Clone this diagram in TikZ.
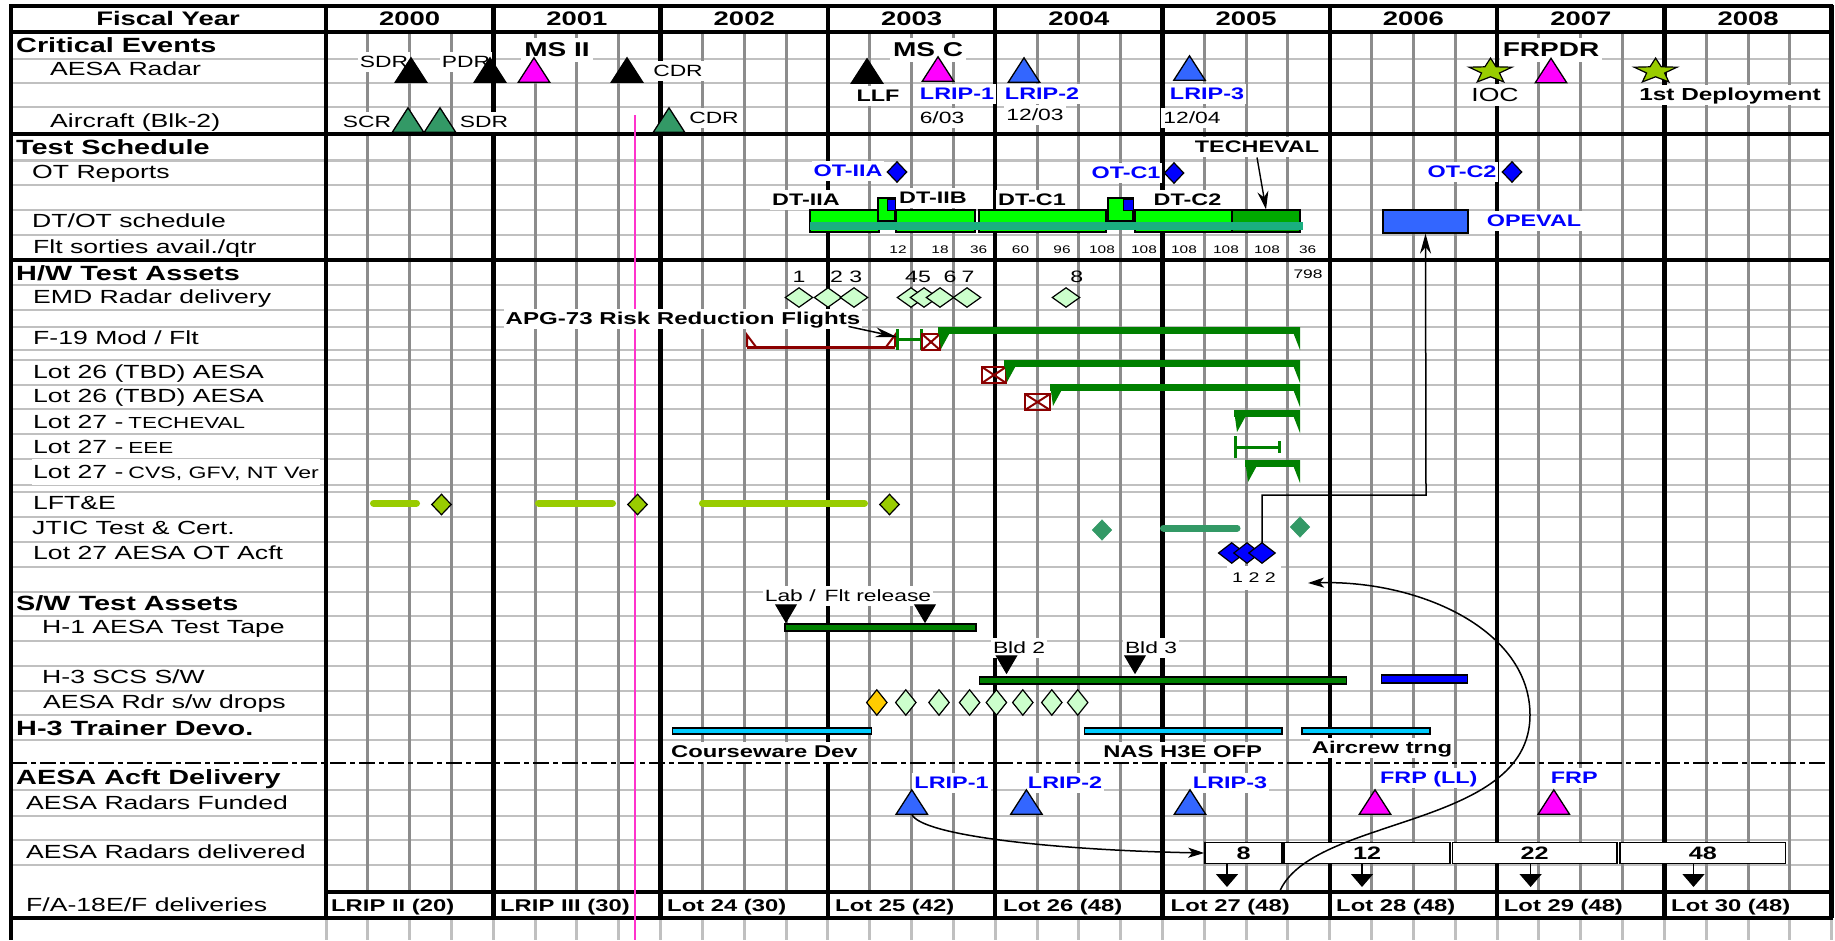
\documentclass[tikz,border=0pt]{standalone}
\usepackage{fontspec}
\setmainfont{Liberation Sans}[FakeStretch=1.4]
\usetikzlibrary{arrows.meta}
\definecolor{hg}{HTML}{C0C0C0}
\definecolor{vg}{HTML}{8C8C8C}
\definecolor{tealg}{HTML}{339966}
\definecolor{mag}{HTML}{FF00FF}
\definecolor{blueT}{HTML}{3366FF}
\definecolor{starg}{HTML}{99CC00}
\definecolor{ltg}{HTML}{CCFFCC}
\definecolor{brg}{HTML}{00FF00}
\definecolor{dkg}{HTML}{00AA00}
\definecolor{stripe}{HTML}{1AAF80}
\definecolor{sumg}{HTML}{008000}
\definecolor{dred}{HTML}{8B0000}
\definecolor{cyanb}{HTML}{00CCFF}
\definecolor{pinkl}{HTML}{FF33CC}
\definecolor{orng}{HTML}{FFCC00}
\definecolor{txtb}{HTML}{0000FF}

\newcommand\trU[5]{\node[#5] (#1) at (#2,#3) {};
  \draw[fill=#4, line width=1.3pt, line join=miter] (#1.south west) -- (#1.south east) -- (#1.north) -- cycle;}
\newcommand\trD[4]{\node[tdn] (#1) at (#2,#3) {};
  \draw[fill=#4, line width=1pt] (#1.north west) -- (#1.north east) -- (#1.south) -- cycle;}
\newcommand\dmd[5]{\node[#5] (#1) at (#2,#3) {};
  \draw[#4] (#1.north) -- (#1.east) -- (#1.south) -- (#1.west) -- cycle;}
\newcommand\starA[3]{\node[minimum width=43pt, minimum height=24pt] (#1) at (#2,#3) {};
  \draw[fill=starg, line width=1.2pt, line join=miter, shift={(#2,#3)}] (0,-11.9) -- (-5.6,-3.2) -- (-21.4,-2.8) -- (-9,3) -- (-13.2,11.9) -- (0,6.8) -- (13.2,11.9) -- (9,3) -- (21.4,-2.8) -- (5.6,-3.2) -- cycle;}
\newcommand\sumbar[3]{\fill[sumg] (#1,#3) rectangle (#2,{#3+7});
  \fill[sumg] (#1,#3) -- ({#1+15},#3) -- ({#1+3},{#3+22}) -- cycle;
  \fill[sumg] ({#2-9},#3) -- (#2,#3) -- (#2,{#3+23}) -- cycle;}
\newcommand\bowt[4]{\draw[dred, line width=2.5pt] (#1,#2) rectangle (#3,#4);
  \draw[dred, line width=2pt] (#1,#2) -- (#3,#4) (#3,#2) -- (#1,#4);}

\begin{document}
\begin{tikzpicture}[x=1pt, y=-1pt,
  every node/.style={inner sep=0pt},
  hdr/.style={font=\bfseries\fontsize{19.6}{20}\selectfont, text height=16.5pt, text depth=3pt},
  sec/.style={font=\bfseries\fontsize{20.6}{21}\selectfont, text height=17.2pt, text depth=3pt, anchor=west},
  lab/.style={font=\fontsize{19}{20}\selectfont, text height=17.1pt, text depth=4pt, anchor=west},
  sm/.style={font=\fontsize{16.3}{17}\selectfont, text height=14.2pt, text depth=3pt, fill=white, inner xsep=2pt, inner ysep=1.5pt},
  bl/.style={font=\bfseries\fontsize{16.7}{17}\selectfont, text height=14.5pt, text depth=3pt, fill=white, inner xsep=2pt, inner ysep=1.5pt},
  bluet/.style={text=txtb},
  big/.style={font=\bfseries\fontsize{20}{21}\selectfont, text height=16.8pt, text depth=3pt, fill=white, inner xsep=3pt, inner ysep=2pt},
  tinyn/.style={font=\fontsize{11}{12}\selectfont, text height=7.6pt, text depth=0pt},
  numn/.style={font=\fontsize{16.5}{17}\selectfont, text height=11.4pt, text depth=0pt},
  dl/.style={font=\bfseries\fontsize{17}{18}\selectfont, text height=11.7pt, text depth=0pt, anchor=west},
  bx/.style={draw, fill=white, line width=1.5pt, minimum height=20.6pt, font=\bfseries\fontsize{18}{18}\selectfont, text height=12.4pt, text depth=0pt},
  tri/.style={minimum width=31pt, minimum height=24pt},
  tdn/.style={minimum width=20pt, minimum height=17pt},
  dE/.style={minimum width=27pt, minimum height=19pt},
  dO/.style={minimum width=19pt, minimum height=20pt},
  dA/.style={minimum width=26pt, minimum height=20pt},
  dS/.style={minimum width=20pt, minimum height=25pt},
  barS/.style={draw=black, line width=1.3pt},
  arrS/.style={line width=1.4pt, -{Stealth[length=18pt, width=11pt]}},
  carr/.style={line width=1.5pt, -{Stealth[length=16pt, width=10pt, inset=4pt]}},
  darr/.style={line width=1.5pt, -{Triangle[length=13pt, width=22pt]}}
]
\useasboundingbox (0,0) rectangle (1835,940);
\fill[white] (0,0) rectangle (1835,940);

% ---------- grid ----------
\foreach \yy in {59,83,107,160.5,185,210,235,285,310,327,350,360,385,409,434,459,485,492,517,542,567,592,616,641,666,691,715,740,790,816,840,865}
  \draw[hg, line width=2.5pt] (11,\yy) -- (1831,\yy);
\foreach \q in {0,...,36} {
  \draw[vg, line width=3pt] ({326+41.825*\q},32) -- ({326+41.825*\q},892);
  \draw[hg, line width=3pt] ({326+41.825*\q},918) -- ({326+41.825*\q},940);
}
\foreach \k in {0,...,9}
  \draw[black, line width=4.5pt] ({326+167.3*\k},4.5) -- ({326+167.3*\k},918);
\draw[black, line width=4.5pt] (11,4.5) -- (11,940);
\foreach \yy in {6,32,134,260,918}
  \draw[black, line width=3.5pt] (9,\yy) -- (1833,\yy);
\draw[black, line width=3.5pt] (326,892) -- (1833,892);
\draw[black, line width=2pt, dash pattern=on 16pt off 4pt on 5pt off 4pt] (11,763) -- (1831,763);
\draw[pinkl, line width=2pt] (635,115) -- (635,940);

% ---------- header ----------
\node[hdr] (fy) at (168,19) {Fiscal Year};
\foreach \yr [count=\k from 0] in {2000,2001,2002,2003,2004,2005,2006,2007,2008}
  \node[hdr] (y\yr) at ({409.65+167.3*\k},19) {\yr};

% ---------- left column ----------
\node[sec] (s-ce) at (16,45) {Critical Events};
\node[sec] (s-ts) at (16,147) {Test Schedule};
\node[sec] (s-hw) at (16,273) {H/W Test Assets};
\node[sec] (s-sw) at (16,603) {S/W Test Assets};
\node[sec] (s-tr) at (16,728) {H-3 Trainer Devo.};
\node[sec] (s-ad) at (16,777) {AESA Acft Delivery};

\node[lab] (r-aesa) at (50,69) {AESA Radar};
\node[lab] (r-acft) at (50,121) {Aircraft (Blk-2)};
\node[lab] (r-otr) at (32,172) {OT Reports};
\node[lab] (r-dtot) at (32,221) {DT/OT schedule};
\node[lab] (r-flt) at (33,247) {Flt sorties avail./qtr};
\node[lab] (r-emd) at (33,297) {EMD Radar delivery};
\node[lab] (r-f19) at (33,338) {F-19 Mod / Flt};
\node[lab] (r-l26a) at (33,372) {Lot 26 (TBD) AESA};
\node[lab] (r-l26b) at (33,396) {Lot 26 (TBD) AESA};
\node[lab] (r-l27t) at (33,422) {Lot 27 -\hspace{5pt}{\fontsize{16}{17}\selectfont TECHEVAL}};
\node[lab] (r-l27e) at (33,447) {Lot 27 -\hspace{5pt}{\fontsize{16}{17}\selectfont EEE}};
\node[lab, fill=white, inner xsep=1pt, inner ysep=2pt] (r-l27c) at (32,472) {Lot 27 -\hspace{5pt}{\fontsize{16.5}{17}\selectfont CVS, GFV, NT Ver}};
\node[lab] (r-lft) at (33,503) {LFT\&E};
\node[lab] (r-jtic) at (32,528) {JTIC Test \& Cert.};
\node[lab] (r-ota) at (33,553) {Lot 27 AESA OT Acft};
\node[lab] (r-h1) at (42,627) {H-1 AESA Test Tape};
\node[lab] (r-h3) at (42,677) {H-3 SCS S/W};
\node[lab] (r-drop) at (43,702) {AESA Rdr s/w drops};
\node[lab] (r-fund) at (26,803) {AESA Radars Funded};
\node[lab] (r-deliv) at (26,852) {AESA Radars delivered};
\node[lab] (r-fa18) at (26,905) {F/A-18E/F deliveries};

% ---------- critical events ----------
\node[sm] (t-sdr) at (384,62) {SDR};
\node[sm] (t-pdr) at (466,62) {PDR};
\node[big] (t-ms2) at (557,50) {MS II};
\node[sm] (t-cdr) at (678,71) {CDR};
\node[big] (t-msc) at (928,50) {MS C};
\node[bl] (t-llf) at (878,96) {LLF};
\node[bl, bluet] (t-lr1) at (957,94) {LRIP-1};
\node[bl, bluet] (t-lr2) at (1042,94) {LRIP-2};
\node[bl, bluet] (t-lr3) at (1207,94) {LRIP-3};
\node[sm] (t-603) at (942,118) {6/03};
\node[sm] (t-1203) at (1035,115) {12/03};
\node[sm] (t-1204) at (1192,118) {12/04};
\node[sm] (t-scr) at (367,122) {SCR};
\node[sm] (t-sdr2) at (484,122) {SDR};
\node[sm] (t-cdr2) at (714,118) {CDR};
\node[big] (t-frpdr) at (1551,50) {FRPDR};
\node[sm, font=\fontsize{19}{20}\selectfont, text height=16pt] (t-ioc) at (1495,95) {IOC};
\node[bl, font=\bfseries\fontsize{17.4}{18}\selectfont] (t-dep) at (1730,95) {1st Deployment};

\trU{m-sdr}{411}{70}{black}{tri}
\trU{m-pdr}{490}{70}{black}{tri}
\trU{m-ms2}{534}{70}{mag}{tri}
\trU{m-cdr}{627}{70}{black}{tri}
\trU{m-llf}{867}{71}{black}{tri}
\trU{m-msc}{938}{69}{mag}{tri}
\trU{m-lr2}{1024}{70}{blueT}{tri}
\trU{m-lr3}{1189.5}{68}{blueT}{tri}
\trU{m-scr}{408}{120}{tealg}{tri}
\trU{m-sdr2}{440}{120}{tealg}{tri}
\trU{m-cdr2}{669}{120}{tealg}{tri}
\starA{m-ioc}{1490.5}{70}
\trU{m-frpdr}{1551}{70.5}{mag}{tri}
\starA{m-dep}{1655.6}{70}

% ---------- test schedule ----------
\node[bl, bluet] (t-ot2a) at (848,171) {OT-IIA};
\dmd{m-ot2a}{897}{172}{fill=txtb, line width=1.2pt}{dO}
\node[bl, bluet] (t-otc1) at (1126,173) {OT-C1};
\dmd{m-otc1}{1174}{173}{fill=txtb, line width=1.2pt}{dO}
\node[bl, bluet] (t-otc2) at (1462,172) {OT-C2};
\dmd{m-otc2}{1512}{172}{fill=txtb, line width=1.2pt}{dO}

\node[bl] (t-dt2a) at (806,200) {DT-IIA};
\node[bl] (t-dt2b) at (933,198) {DT-IIB};
\node[bl] (t-dtc1) at (1032,200) {DT-C1};
\node[bl] (t-dtc2) at (1187.5,200) {DT-C2};
\node[bl] (t-te) at (1257,147) {TECHEVAL};

\draw[barS, fill=brg] (810,210) rectangle (879,232);
\draw[barS, fill=brg] (896,210) rectangle (975,232);
\draw[barS, fill=brg] (979,210) rectangle (1106,232);
\draw[barS, fill=brg] (1135,210) rectangle (1232,232);
\node[barS, fill=dkg, minimum width=68pt, minimum height=22pt] (te) at (1266,221) {};
\draw[barS, fill=brg] (878,198) rectangle (895,221);
\draw[fill=txtb, line width=1pt] (887,199) rectangle (895,210);
\draw[barS, fill=brg] (1108,198) rectangle (1133,221);
\draw[fill=txtb, line width=1pt] (1123,199) rectangle (1133,210);
\fill[stripe] (810,222) rectangle (1303,230);
\draw[arrS] (t-te.south) -- (te.north);

\node[barS, fill=blueT, minimum width=85pt, minimum height=23pt] (opev) at (1425.5,221.5) {};
\node[bl, bluet] (t-opev) at (1534,221) {OPEVAL};

\foreach \xx/\v [count=\i] in {898/12,940/18,978.6/36,1020.5/60,1062/96,1102/108,1144/108,1184/108,1226/108,1267/108,1307.6/36}
  \node[tinyn] (fs\i) at (\xx,250) {\v};

% ---------- H/W test assets ----------
\foreach \xx/\v [count=\i] in {799/1,836.6/2,855.8/3,918/45,950/6,968/7,1076.8/8}
  \node[numn] (en\i) at (\xx,277) {\v};
\node[tinyn, font=\fontsize{12.4}{13}\selectfont] (en9) at (1308,275) {798};
\foreach \xx [count=\i] in {799,828,854,911,924,940,967,1066}
  {\dmd{ed\i}{\xx}{297.5}{fill=ltg, line width=1.2pt}{dE}}

\node[bl, font=\bfseries\fontsize{17.2}{18}\selectfont] (t-apg) at (683,319) {APG-73 Risk Reduction Flights};

% F-19 row
\draw[dred, line width=3pt] (747,347) -- (895,347);
\draw[dred, line width=2pt] (747,347) -- (747,335) -- (756,347);
\draw[dred, line width=2pt] (895,347) -- (895,335) -- (886,347);
\draw[sumg, line width=3pt] (897,339) -- (921,339) (897,329) -- (897,350) (921,329) -- (921,350);
\coordinate (f19h) at (897,337);
\draw[line width=1.5pt, -{Stealth[length=22pt, width=10pt]}] ([xshift=-14pt, yshift=3pt]t-apg.south east) -- (f19h);
\bowt{922}{334}{940}{350}
\sumbar{938}{1300}{327}
% Lot 26
\bowt{982}{367}{1006}{383}
\sumbar{1004}{1300}{360}
\bowt{1025}{394}{1050}{410}
\sumbar{1050}{1300}{384}
% Lot 27
\sumbar{1234}{1300}{410}
\draw[sumg, line width=3pt] (1235,436) -- (1235,458) (1235,447) -- (1279,447) (1279,441) -- (1279,453);
\sumbar{1245}{1300}{460}

% LFT&E
\draw[starg, line width=7pt, line cap=round] (373.5,503) -- (416.5,503);
\draw[starg, line width=7pt, line cap=round] (538.5,503) -- (612.5,503);
\draw[starg, line width=7pt, line cap=round] (702.5,503) -- (864.5,503);
\dmd{lf1}{441.5}{504.5}{fill=starg, line width=1.2pt}{dO}
\dmd{lf2}{637.5}{504.5}{fill=starg, line width=1.2pt}{dO}
\dmd{lf3}{889.5}{504.5}{fill=starg, line width=1.2pt}{dO}
% JTIC
\dmd{jt1}{1102}{530}{fill=tealg, draw=tealg, line width=0.5pt}{dO}
\draw[tealg, line width=7pt, line cap=round] (1163.5,528) -- (1237,528);
\dmd{jt2}{1300}{527}{fill=tealg, draw=tealg, line width=0.5pt}{dO}
% OT aircraft
\dmd{oa1}{1231.7}{553}{fill=txtb, line width=1.2pt}{dA}
\dmd{oa2}{1247}{553}{fill=txtb, line width=1.2pt}{dA}
\dmd{oa3}{1262}{553}{fill=txtb, line width=1.2pt}{dA}
\node[font=\fontsize{14}{14}\selectfont, text height=9.7pt, text depth=0pt, fill=white, inner xsep=5pt, inner ysep=7pt] (t122) at (1254,578) {1 2 2};
\coordinate (turn) at (1426,495);
\draw[line width=1.5pt, -{Stealth[length=20pt, width=11pt]}] (oa3.north) |- (turn) -- (opev.south);

% ---------- S/W test assets ----------
\node[sm] (t-lab) at (848,596) {Lab /\hspace{9pt}Flt release};
\trD{m-lab}{786}{613.5}{black}
\trD{m-flt}{925}{613.5}{black}
\draw[barS, fill=sumg] (785,624) rectangle (976,631);
\node[sm] (t-b2) at (1019,648) {Bld 2};
\node[sm] (t-b3) at (1151,648) {Bld 3};
\trD{m-b2}{1006.5}{664.5}{black}
\trD{m-b3}{1135}{664.5}{black}
\draw[barS, fill=sumg] (979.5,677) rectangle (1346.5,684);
\draw[barS, fill=txtb] (1381.6,675) rectangle (1467.6,683);
\dmd{sd0}{876.8}{702.5}{fill=orng, line width=1.2pt}{dS}
\foreach \xx [count=\i] in {905.8,939,969.6,996.4,1022.8,1051.8,1077.7}
  {\dmd{sd\i}{\xx}{702.5}{fill=ltg, line width=1.2pt}{dS}}

% ---------- trainer ----------
\draw[barS, fill=cyanb] (672.8,728) rectangle (871.4,734);
\draw[barS, fill=cyanb] (1084.4,728) rectangle (1282,734);
\draw[barS, fill=cyanb] (1302,728) rectangle (1430,734);
\node[bl, anchor=west, font=\bfseries\fontsize{17}{18}\selectfont] (t-cw) at (669,752) {Courseware Dev};
\node[bl, font=\bfseries\fontsize{17}{18}\selectfont] (t-nas) at (1182.6,752) {NAS H3E OFP};
\node[bl, font=\bfseries\fontsize{17}{18}\selectfont] (t-acr) at (1382,748) {Aircrew trng};

% ---------- AESA aircraft delivery ----------
\node[bl, bluet] (t-a1) at (951.5,783) {LRIP-1};
\node[bl, bluet] (t-a2) at (1065,783) {LRIP-2};
\node[bl, bluet] (t-a3) at (1230,783) {LRIP-3};
\node[bl, bluet] (t-a4) at (1428.8,778) {FRP (LL)};
\node[bl, bluet] (t-a5) at (1574.3,778) {FRP};
\trU{m-a1}{911.8}{802}{blueT}{tri}
\trU{m-a2}{1026.4}{802}{blueT}{tri}
\trU{m-a3}{1190}{802}{blueT}{tri}
\trU{m-a4}{1375}{802}{mag}{tri}
\trU{m-a5}{1553.8}{802}{mag}{tri}

\node[bx, minimum width=77pt] (b8) at (1243.5,853) {8};
\node[bx, minimum width=166pt] (b12) at (1367,853) {12};
\node[bx, minimum width=164.6pt] (b22) at (1534.7,853) {22};
\node[bx, minimum width=165.5pt] (b48) at (1702.75,853) {48};
\draw[carr] (m-a1.south) .. controls (920,835) and (1050,850) .. (b8.west);

\coordinate (d8) at (1227,887);
\coordinate (d12) at (1362,887);
\coordinate (d22) at (1530.6,887);
\coordinate (d48) at (1693.5,887);
\draw[darr] (b8.south -| d8) -- (d8);
\draw[darr] (b12.south -| d12) -- (d12);
\draw[darr] (b22.south -| d22) -- (d22);
\draw[darr] (b48.south -| d48) -- (d48);

% ---------- F/A-18 deliveries ----------
\node[dl] (l-1) at (331,905.5) {LRIP II (20)};
\node[dl] (l-2) at (500,905.5) {LRIP III (30)};
\node[dl] (l-3) at (667,905.5) {Lot 24 (30)};
\node[dl] (l-4) at (835,905.5) {Lot 25 (42)};
\node[dl] (l-5) at (1003,905.5) {Lot 26 (48)};
\node[dl] (l-6) at (1170.5,905.5) {Lot 27 (48)};
\node[dl] (l-7) at (1336,905.5) {Lot 28 (48)};
\node[dl] (l-8) at (1503.7,905.5) {Lot 29 (48)};
\node[dl] (l-9) at (1671,905.5) {Lot 30 (48)};

\coordinate (cstart) at (1279,893);
\coordinate (c122) at (1308,583);
\draw[carr] (cstart) .. controls (1310,815) and (1530,830) .. (1530,715) .. controls (1530,630) and (1420,580) .. (c122);
\end{tikzpicture}
\end{document}
